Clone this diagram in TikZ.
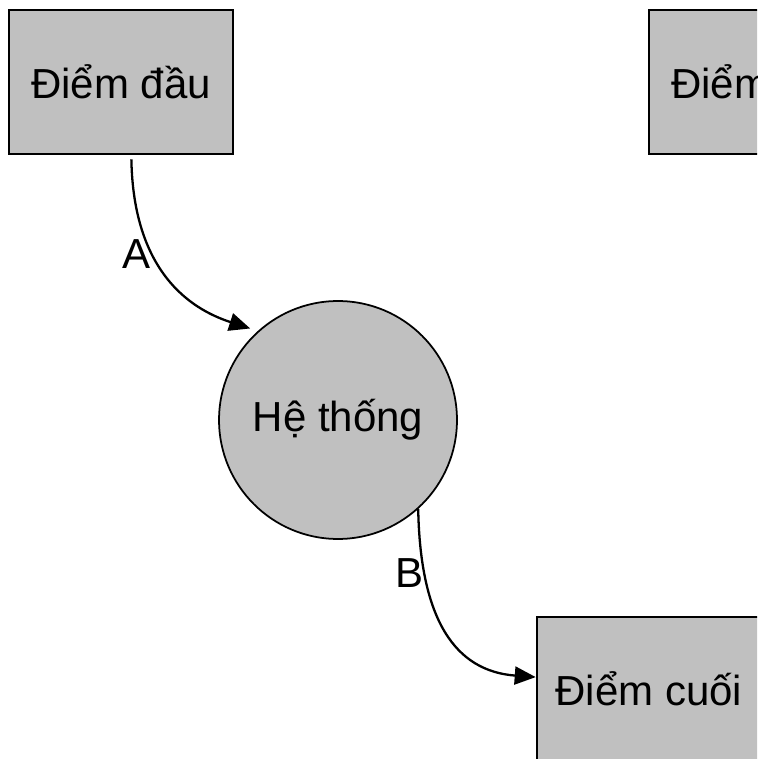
\documentclass[tikz,border=0pt]{standalone}
\usepackage{fontspec}
\setmainfont{Liberation Sans}
\usetikzlibrary{arrows.meta}
\definecolor{boxgray}{RGB}{192,192,192}
\tikzset{
    endpoint/.style={draw=black, fill=boxgray, line width=1.5pt, minimum width=4.48cm, minimum height=2.88cm, inner sep=0pt},
    process/.style={circle, draw=black, fill=boxgray, line width=1pt, minimum size=4.76cm, inner sep=0pt},
    flow/.style={-{Triangle[length=4.2mm,width=3.6mm]}, line width=1.3pt}
}
\begin{document}
\begin{tikzpicture}[x=0.02cm, y=-0.02cm, font=\fontsize{23.9}{28}\selectfont]
            \clip (0,0) rectangle (757,759);
            \fill[white] (0,0) rectangle (757,759);
            % boxes and the system
            \node[endpoint] (start) at (121,82) {Điểm đầu};
            \node[endpoint] (start2) at (761,82) {Điểm đầu};
            \node[process] (sys) at (338,420) {Hệ thống};
            \node[endpoint] (fin) at (649,689) {Điểm cuối};
            % flows in and out
            \draw[flow, shorten <=0.08cm, shorten >=0.16cm] (start.-82) .. controls +(2,116) and +(-68,-22) .. (sys.132);
            \draw[flow] (sys.-48) .. controls +(2,110) and +(-81,-6) .. (fin.174);
            \node (a) at (137,254) {A};
            \node (b) at (409,573) {B};
        \end{tikzpicture}
\end{document}
